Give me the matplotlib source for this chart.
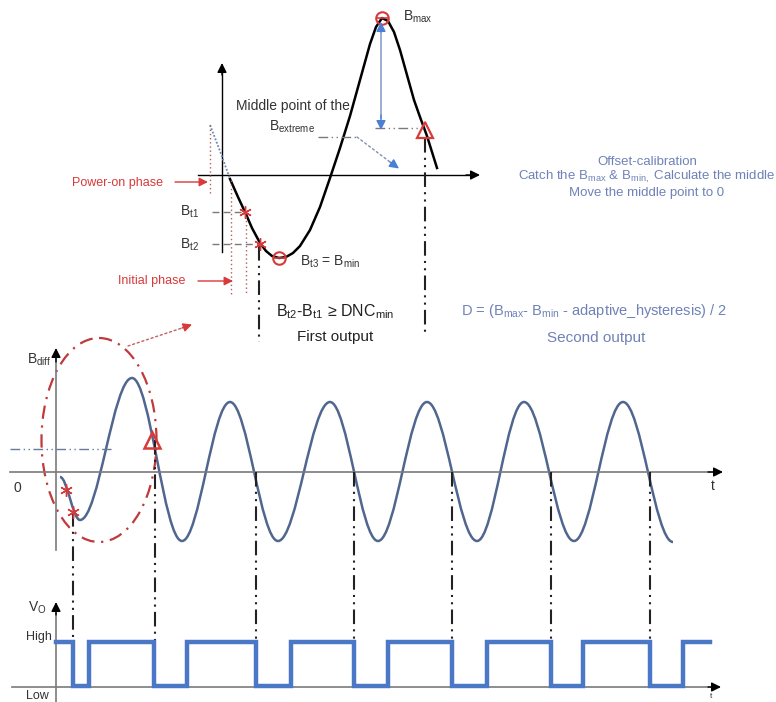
import numpy as np
import matplotlib
matplotlib.use("Agg")
import matplotlib.pyplot as plt
from matplotlib.path import Path
from matplotlib.patches import PathPatch, Ellipse

plt.rcParams['font.family'] = ['Liberation Sans', 'DejaVu Sans']
plt.rcParams['mathtext.fontset'] = 'custom'
plt.rcParams['mathtext.rm'] = 'Liberation Sans'

# --- data (pixel coordinates, y down) ---
# top sketch: one period of the raw signal
top_x = [230, 238, 245, 252, 260, 266, 272, 279, 286, 293, 300, 310, 320, 330, 340,
         350, 360, 370, 376, 382, 388, 394, 400, 407, 414, 420, 427, 432, 437]
top_y = [179, 197, 212, 228, 243, 251, 256, 258, 257, 253, 246, 230, 207, 178, 148,
         116, 80, 44, 27, 18, 21, 32, 50, 75, 100, 117, 136, 152, 168]
pre_x = [210, 220, 230]          # signal before power-on (dotted)
pre_y = [125, 151, 179]
t1 = (245, 212)
t2 = (260, 244)
b_min = (279, 258)
b_max = (382, 18)
mid_pt = (425, 130)

# middle: B_diff waveform (start point + extrema)
wave_x = [60, 80, 132, 182, 230, 278, 330, 378, 427, 477, 524, 574, 623, 673]
wave_y = [477, 520, 378, 541, 402, 541, 402, 541, 402, 541, 402, 541, 402, 542]
wave_stars = [(66, 490), (73, 512)]
wave_tri = (152, 440)
zero_cross = [73, 155, 256, 354, 452, 551, 650]
cross_top = [512, 440, 472, 472, 472, 472, 472]

# bottom: output V_O edges
vo_edges = [56, 73, 89, 154, 187, 256, 291, 354, 388, 452, 487, 551, 583, 650, 683, 710]
vo_high, vo_low = 642, 686

RED = '#d83a3a'
DRED = '#c0393b'
BLUE_TXT = '#6f82b8'
BLUE_AR = '#4a7fd4'
WAVE = '#50668f'
SQ = '#4b78c6'
GREY = '#7a7a7a'
DD = (0, (7, 2.5, 1, 2.5, 1, 2.5))

fig = plt.figure(figsize=(7.76, 7.02), dpi=100)
ax = fig.add_axes([0, 0, 1, 1])
ax.set_xlim(0, 776)
ax.set_ylim(702, 0)
ax.axis('off')


def arrow(p0, p1, color='black', lw=1.0, ls='-', ms=12):
    ax.annotate('', xy=p1, xytext=p0,
                arrowprops=dict(arrowstyle='-|>', color=color, lw=lw, ls=ls,
                                mutation_scale=ms, shrinkA=0, shrinkB=0))


def sub(base, s):
    return base + r'$_{\mathregular{' + s + '}}$'


# ================= top sketch =================
ax.plot([222, 222], [252, 72], color='black', lw=1.0)
arrow((222, 75), (222, 63), ms=14)
ax.plot([198, 470], [175, 175], color='black', lw=1.0)
arrow((466, 175), (480, 175), ms=14)

ax.plot(pre_x, pre_y, color='#6f86b8', lw=1.3, ls=(0, (1, 1)))
ax.plot(top_x, top_y, color='black', lw=1.8)

# dotted guides
ax.plot([210, 210], [125, 195], color='#b06060', lw=1.0, ls=(0, (1, 2)))
ax.plot([231, 231], [180, 295], color='#b06060', lw=1.0, ls=(0, (1, 2)))
ax.plot([246, 246], [212, 295], color='#b06060', lw=1.0, ls=(0, (1, 2)))
ax.plot([212, t1[0]], [t1[1], t1[1]], color=GREY, lw=1.0, ls=(0, (5, 3)))
ax.plot([212, t2[0]], [t2[1], t2[1]], color=GREY, lw=1.0, ls=(0, (5, 3)))
ax.plot([259, 259], [246, 342], color='#222222', lw=1.5, ls=DD)
ax.plot([425, 425], [138, 332], color='#222222', lw=1.5, ls=DD)
ax.plot([375, 423], [128, 128], color=GREY, lw=1.0, ls=DD)

ax.plot(*zip(t1, t2), ls='none', marker=(6, 2, 0), ms=9, color=RED, mew=1.0)
for p in (b_min, b_max):
    ax.plot(*p, marker='o', ms=9, mfc='none', mec=RED, mew=1.5)
    ax.plot(*p, marker='_', ms=9, mec=RED, mew=1.2)
ax.plot(*mid_pt, marker='^', ms=11, mfc='none', mec=RED, mew=1.6)

# B_max -> middle arrow
ax.plot([381, 381], [30, 118], color='#8aa0cc', lw=1.2)
arrow((381, 32), (381, 22), color=BLUE_AR, ms=14)
arrow((381, 115), (381, 130), color=BLUE_AR, ms=14)
ax.plot([318, 357], [137, 137], color=GREY, lw=1.0, ls=DD)
arrow((357, 137), (398, 168), color='#7f8fb5', lw=1.0, ls=(0, (1.5, 2)), ms=1)
arrow((390, 162), (399, 168.5), color=BLUE_AR, ms=14)

# red phase arrows
arrow((175, 182), (208, 182), color=RED, lw=1.0, ms=13)
arrow((198, 281), (233, 281), color=RED, lw=1.0, ms=13)

ax.text(72, 183, 'Power-on phase', color=RED, fontsize=9, va='center')
ax.text(118, 281, 'Initial phase', color=RED, fontsize=9, va='center')
ax.text(199, 212, sub('B', 't1'), fontsize=10, ha='right', va='center', color='#333333')
ax.text(199, 245, sub('B', 't2'), fontsize=10, ha='right', va='center', color='#333333')
ax.text(300, 262, sub('B', 't3') + ' = ' + sub('B', 'min'), fontsize=10, va='center',
        color='#333333')
ax.text(403, 17, sub('B', 'max'), fontsize=10, va='center', color='#333333')
ax.text(293, 106, 'Middle point of the', fontsize=10, ha='center', va='center',
        color='#333333')
ax.text(292, 127, sub('B', 'extreme'), fontsize=10, ha='center', va='center',
        color='#333333')
ax.text(335, 312, sub('B', 't2') + '-' + sub('B', 't1') + ' ≥ DNC' +
        r'$_{\mathregular{min}}$', fontsize=11.5, ha='center', va='center', color='#222222')
ax.text(335, 337, 'First output', fontsize=11, ha='center', va='center', color='#222222')

ax.text(647, 162, 'Offset-calibration', fontsize=9.5, ha='center', va='center',
        color=BLUE_TXT)
ax.text(647, 177, 'Catch the ' + sub('B', 'max') + ' & ' + sub('B', 'min,') +
        ' Calculate the middle', fontsize=9.5, ha='center', va='center', color=BLUE_TXT)
ax.text(647, 193, 'Move the middle point to 0', fontsize=9.5, ha='center', va='center',
        color=BLUE_TXT)
ax.text(594, 311, 'D = (' + sub('B', 'max') + '- ' + sub('B', 'min') +
        ' - adaptive_hysteresis) / 2', fontsize=10.5, ha='center', va='center',
        color=BLUE_TXT)
ax.text(596, 338, 'Second output', fontsize=11, ha='center', va='center', color=BLUE_TXT)

# ================= middle: B_diff =================
ax.plot([56, 56], [550, 358], color=GREY, lw=1.2)
arrow((56, 362), (56, 348), ms=14)
ax.plot([10, 712], [472, 472], color=GREY, lw=1.2)
arrow((708, 472), (723, 472), ms=14)
ax.text(27, 360, sub('B', 'diff'), fontsize=10, va='center', color='#333333')
ax.text(14, 488, '0', fontsize=10, va='center', color='#333333')
ax.text(713, 486, 't', fontsize=10, ha='center', va='center', color='#333333')

ax.plot([10, 111], [449, 449], color='#6a7a99', lw=1.0, ls=DD)

k = 0.36
verts = [(wave_x[0], wave_y[0])]
codes = [Path.MOVETO]
for i in range(1, len(wave_x)):
    x0, y0, x1, y1 = wave_x[i - 1], wave_y[i - 1], wave_x[i], wave_y[i]
    dx = x1 - x0
    verts += [(x0 + k * dx, y0), (x1 - k * dx, y1), (x1, y1)]
    codes += [Path.CURVE4] * 3
ax.add_patch(PathPatch(Path(verts, codes), fc='none', ec=WAVE, lw=1.8))

for xc, yt in zip(zero_cross, cross_top):
    ax.plot([xc, xc], [yt, 640], color='#222222', lw=1.5, ls=DD)

ax.plot(*zip(*wave_stars), ls='none', marker=(6, 2, 0), ms=9, color=RED, mew=1.0)
ax.plot(*wave_tri, marker='^', ms=11, mfc='none', mec=RED, mew=1.8)

ax.add_patch(Ellipse((99, 440), 115, 204, fc='none', ec=DRED, lw=1.6, ls=(0, (6, 3, 1, 3))))
arrow((128, 346), (191, 325), color='#c06060', lw=1.0, ls=(0, (1.5, 2)), ms=1)
arrow((182, 328), (192, 324.5), color=RED, ms=13)

# ================= bottom: V_O =================
ax.plot([56, 56], [702, 612], color=GREY, lw=1.2)
arrow((56, 615), (56, 602), ms=14)
ax.plot([12, 712], [687, 687], color=GREY, lw=1.2)
arrow((708, 687), (721, 687), ms=14)
ax.text(28, 608, sub('V', 'O'), fontsize=10, va='center', color='#333333')
ax.text(26, 637, 'High', fontsize=9, va='center', color='#333333')
ax.text(26, 696, 'Low', fontsize=9, va='center', color='#333333')
ax.text(711, 697, 't', fontsize=6, ha='center', va='center', color='#333333')

levels = [vo_high if i % 2 == 0 else vo_low for i in range(len(vo_edges) - 1)]
levels.append(levels[-1])
ax.step(vo_edges, levels, where='post', color=SQ, lw=3.2, solid_joinstyle='miter')

fig.savefig('out.png', dpi=100)
